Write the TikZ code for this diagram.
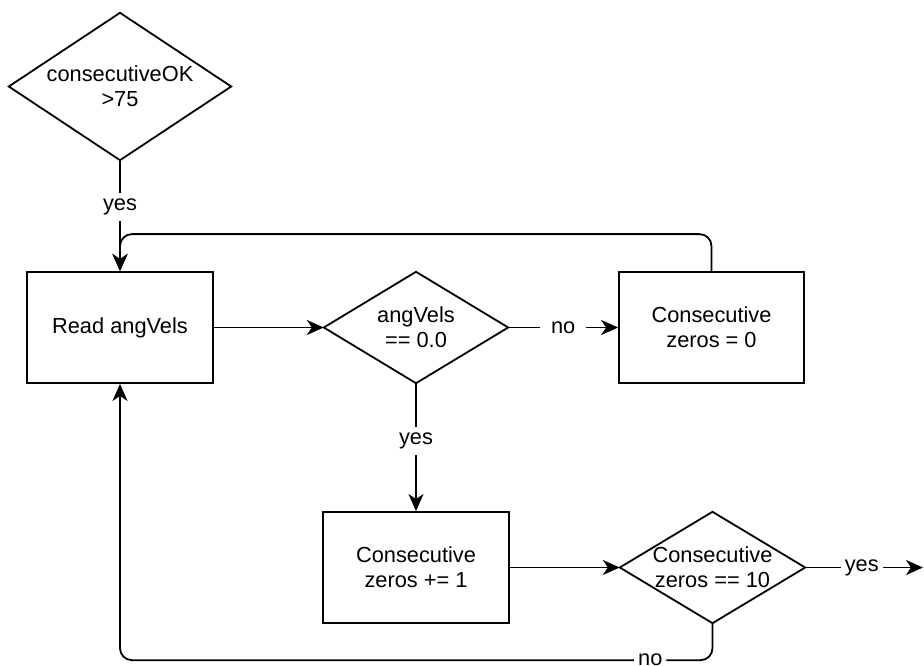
\documentclass[tikz,border=0pt]{standalone}
\usepackage{fontspec}
\setmainfont{Liberation Sans}
\usetikzlibrary{arrows.meta}
\begin{document}
\begin{tikzpicture}[x=1pt, y=-1pt,
  every node/.style={font=\fontsize{21.8}{25}\selectfont, align=center},
  flowline/.style={line width=1.8pt, line join=round},
  arrowline/.style={flowline, -{Stealth[length=17pt, width=15pt, inset=5pt]}},
  procbox/.style={draw, line width=1.8pt, rectangle, inner sep=0pt},
  decisionarea/.style={rectangle, inner sep=0pt},
  decisionline/.style={line width=1.8pt, line join=miter},
  edgelabel/.style={fill=white, inner xsep=11pt, inner ysep=6pt},
  tightlabel/.style={fill=white, inner xsep=4pt, inner ysep=2pt}
]
\useasboundingbox (0,0) rectangle (924,666);

% process boxes
\node[procbox, minimum width=186pt, minimum height=111pt] (read) at (120,327.5) {Read angVels};
\node[procbox, minimum width=185pt, minimum height=111pt] (zero) at (711.5,327.5) {Consecutive\\zeros = 0};
\node[procbox, minimum width=186pt, minimum height=111pt] (incr) at (416,567.5) {Consecutive\\zeros += 1};

% decisions: text area plus diamond outline through its anchors
\node[decisionarea, minimum width=222pt, minimum height=147pt] (okcheck) at (120,86.5) {consecutiveOK\\>75};
\node[decisionarea, minimum width=184pt, minimum height=111pt] (zerocheck) at (416,327.5) {angVels\\== 0.0};
\node[decisionarea, minimum width=185pt, minimum height=111pt] (tencheck) at (712.5,567.5) {Consecutive\\zeros == 10};
\foreach \d in {okcheck, zerocheck, tencheck}
  \draw[decisionline] (\d.north) -- (\d.east) -- (\d.south) -- (\d.west) -- cycle;

\coordinate (exit) at (923,567.5);

% connectors
\draw[arrowline] (okcheck.south) -- node[edgelabel, pos=0.42] {yes} (read.north);
\draw[arrowline, rounded corners=12pt] (zero.north) -- ++(0,-37) -| (read.north);
\draw[arrowline] (read.east) -- (zerocheck.west);
\draw[arrowline] (zerocheck.east) -- node[edgelabel, pos=0.5] {no} (zero.west);
\draw[arrowline] (zerocheck.south) -- node[edgelabel, pos=0.45] {yes} (incr.north);
\draw[arrowline] (incr.east) -- (tencheck.west);
\draw[arrowline] (tencheck.east) -- node[tightlabel, pos=0.48] {yes} (exit);
\draw[arrowline, rounded corners=12pt] (tencheck.south) -- ++(0,37)
  -- node[tightlabel, pos=0.105] {no} ++(-592.5,0) -- (read.south);
\end{tikzpicture}
\end{document}
